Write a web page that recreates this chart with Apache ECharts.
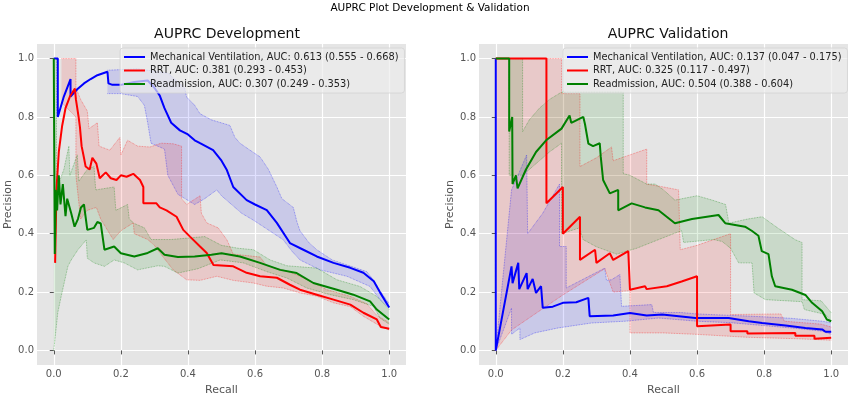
<!DOCTYPE html>
<html>
<head>
<meta charset="utf-8">
<script src="https://cdn.jsdelivr.net/npm/echarts@6/dist/echarts.min.js"></script>
<style>
  html, body { margin: 0; padding: 0; background: #fff; }
  #chart { width: 850px; height: 397px; }
</style>
</head>
<body>
<div id="chart"></div>
<script>
// tick positions shared by both panels
const tickValues = [0, 0.2, 0.4, 0.6, 0.8, 1.0];

// legend labels
const devNames = [
  'Mechanical Ventilation, AUC: 0.613 (0.555 - 0.668)',
  'RRT, AUC: 0.381 (0.293 - 0.453)',
  'Readmission, AUC: 0.307 (0.249 - 0.353)'
];
const valNames = [
  'Mechanical Ventilation, AUC: 0.137 (0.047 - 0.175)',
  'RRT, AUC: 0.325 (0.117 - 0.497)',
  'Readmission, AUC: 0.504 (0.388 - 0.604)'
];

// ---- development: [recall, precision] ----
const devMvLine = [[0,1.0],[0.012,1.0],[0.012,0.80],[0.03,0.87],[0.05,0.93],[0.05,0.87],[0.07,0.895],[0.09,0.915],[0.11,0.93],[0.13,0.943],[0.16,0.955],[0.163,0.915],[0.175,0.91],[0.18,0.905],[0.20,0.91],[0.24,0.92],[0.28,0.925],[0.30,0.90],[0.316,0.873],[0.33,0.83],[0.35,0.78],[0.376,0.754],[0.40,0.74],[0.42,0.72],[0.436,0.71],[0.475,0.686],[0.50,0.65],[0.516,0.618],[0.535,0.56],[0.575,0.515],[0.60,0.50],[0.635,0.481],[0.665,0.437],[0.704,0.368],[0.744,0.345],[0.784,0.322],[0.834,0.30],[0.884,0.283],[0.923,0.266],[0.954,0.237],[0.973,0.198],[1.0,0.147]];
const devMvUpper = [[0.16,0.96],[0.25,0.965],[0.34,0.95],[0.39,0.90],[0.396,0.868],[0.42,0.84],[0.436,0.811],[0.47,0.79],[0.525,0.771],[0.54,0.73],[0.555,0.71],[0.58,0.69],[0.615,0.663],[0.64,0.62],[0.665,0.56],[0.68,0.52],[0.714,0.49],[0.725,0.44],[0.734,0.41],[0.76,0.37],[0.784,0.345],[0.83,0.31],[0.874,0.293],[0.933,0.27],[0.954,0.24],[0.975,0.20],[1.0,0.16]];
const devMvLower = [[0.16,0.88],[0.20,0.88],[0.25,0.87],[0.27,0.84],[0.28,0.78],[0.29,0.71],[0.33,0.69],[0.34,0.60],[0.37,0.535],[0.42,0.50],[0.45,0.52],[0.486,0.55],[0.50,0.53],[0.53,0.50],[0.56,0.47],[0.594,0.447],[0.63,0.42],[0.684,0.379],[0.71,0.34],[0.734,0.31],[0.794,0.276],[0.874,0.254],[0.943,0.219],[0.973,0.174],[1.0,0.146]];

const devRrtLine = [[0.004,0.30],[0.008,0.55],[0.015,0.68],[0.025,0.77],[0.035,0.83],[0.048,0.87],[0.063,0.897],[0.066,0.86],[0.07,0.83],[0.074,0.80],[0.078,0.765],[0.083,0.70],[0.09,0.66],[0.095,0.63],[0.107,0.62],[0.115,0.66],[0.127,0.64],[0.137,0.59],[0.155,0.61],[0.17,0.59],[0.187,0.584],[0.20,0.60],[0.217,0.595],[0.237,0.605],[0.257,0.584],[0.267,0.56],[0.267,0.504],[0.306,0.504],[0.316,0.49],[0.336,0.48],[0.366,0.458],[0.386,0.413],[0.406,0.39],[0.436,0.356],[0.456,0.334],[0.476,0.293],[0.535,0.288],[0.575,0.266],[0.615,0.254],[0.665,0.249],[0.704,0.225],[0.734,0.208],[0.784,0.191],[0.834,0.174],[0.884,0.157],[0.923,0.129],[0.963,0.106],[0.975,0.08],[1.0,0.074]];
const devRrtUpper = [[0.023,1.0],[0.066,1.0],[0.066,0.90],[0.08,0.86],[0.10,0.82],[0.105,0.76],[0.13,0.78],[0.135,0.70],[0.167,0.686],[0.197,0.73],[0.20,0.67],[0.22,0.72],[0.25,0.70],[0.287,0.697],[0.32,0.71],[0.356,0.708],[0.381,0.70],[0.381,0.52],[0.396,0.50],[0.436,0.53],[0.44,0.47],[0.456,0.437],[0.49,0.42],[0.516,0.379],[0.535,0.33],[0.615,0.32],[0.635,0.29],[0.70,0.27],[0.734,0.254],[0.76,0.24],[0.814,0.208],[0.884,0.185],[0.933,0.16],[0.963,0.12],[1.0,0.095]];
const devRrtLower = [[0.023,0.85],[0.066,0.80],[0.066,0.60],[0.08,0.45],[0.10,0.48],[0.127,0.49],[0.14,0.45],[0.177,0.38],[0.20,0.41],[0.237,0.437],[0.24,0.40],[0.28,0.38],[0.30,0.36],[0.326,0.32],[0.356,0.276],[0.396,0.242],[0.436,0.24],[0.486,0.254],[0.535,0.24],[0.595,0.231],[0.635,0.22],[0.684,0.214],[0.734,0.197],[0.784,0.186],[0.834,0.163],[0.884,0.15],[0.923,0.117],[0.963,0.09],[1.0,0.07]];

const devReadLine = [[0,1.0],[0.003,1.0],[0.003,0.33],[0.006,0.55],[0.01,0.48],[0.015,0.60],[0.02,0.50],[0.027,0.57],[0.035,0.46],[0.04,0.52],[0.052,0.47],[0.062,0.424],[0.072,0.45],[0.081,0.49],[0.09,0.50],[0.10,0.413],[0.12,0.42],[0.13,0.44],[0.14,0.435],[0.151,0.345],[0.18,0.356],[0.20,0.333],[0.24,0.322],[0.28,0.334],[0.31,0.35],[0.33,0.328],[0.37,0.32],[0.42,0.322],[0.47,0.328],[0.50,0.333],[0.555,0.322],[0.615,0.30],[0.675,0.276],[0.724,0.265],[0.774,0.231],[0.844,0.208],[0.893,0.191],[0.943,0.168],[0.963,0.14],[1.0,0.106]];
const devReadUpper = [[0,1.0],[0.008,1.0],[0.008,0.55],[0.03,0.62],[0.045,0.70],[0.048,0.60],[0.07,0.67],[0.075,0.58],[0.10,0.62],[0.12,0.63],[0.125,0.55],[0.18,0.56],[0.185,0.48],[0.22,0.50],[0.225,0.45],[0.24,0.435],[0.27,0.42],[0.29,0.38],[0.35,0.38],[0.40,0.385],[0.45,0.39],[0.50,0.36],[0.55,0.35],[0.595,0.345],[0.645,0.31],[0.695,0.29],[0.784,0.282],[0.844,0.242],[0.913,0.219],[0.963,0.185],[1.0,0.14]];
const devReadLower = [[0,0],[0.012,0.13],[0.022,0.185],[0.042,0.288],[0.052,0.31],[0.072,0.345],[0.097,0.379],[0.10,0.316],[0.12,0.30],[0.151,0.288],[0.18,0.31],[0.21,0.30],[0.25,0.276],[0.31,0.29],[0.33,0.288],[0.37,0.265],[0.43,0.28],[0.496,0.31],[0.565,0.30],[0.635,0.27],[0.695,0.248],[0.754,0.214],[0.824,0.191],[0.893,0.174],[0.953,0.151],[0.973,0.11],[1.0,0.09]];

// ---- validation: [recall, precision] ----
const valMvLine = [[0,1.0],[0,0],[0.047,0.288],[0.05,0.23],[0.067,0.30],[0.07,0.21],[0.092,0.265],[0.095,0.21],[0.11,0.245],[0.12,0.197],[0.135,0.22],[0.14,0.146],[0.17,0.15],[0.20,0.163],[0.24,0.165],[0.276,0.18],[0.28,0.117],[0.35,0.12],[0.40,0.128],[0.45,0.12],[0.496,0.123],[0.595,0.111],[0.694,0.111],[0.754,0.10],[0.794,0.094],[0.864,0.085],[0.923,0.077],[0.973,0.072],[0.983,0.064],[1.0,0.064]];
const valMvUpper = [[0,0],[0.047,0.55],[0.07,0.61],[0.092,0.67],[0.095,0.40],[0.14,0.47],[0.19,0.57],[0.19,0.356],[0.21,0.356],[0.21,0.214],[0.325,0.282],[0.33,0.24],[0.345,0.242],[0.37,0.26],[0.375,0.151],[0.465,0.157],[0.47,0.13],[0.55,0.13],[0.60,0.125],[0.70,0.12],[0.744,0.118],[0.80,0.115],[0.88,0.11],[0.973,0.10],[1.0,0.095]];
const valMvLower = [[0,0],[0.027,0.083],[0.047,0.145],[0.047,0.055],[0.072,0.077],[0.072,0.037],[0.116,0.06],[0.186,0.077],[0.286,0.094],[0.385,0.10],[0.485,0.111],[0.60,0.10],[0.70,0.095],[0.80,0.085],[0.90,0.075],[0.973,0.066],[1.0,0.055]];

const valRrtLine = [[0,1.0],[0.151,1.0],[0.151,0.504],[0.20,0.56],[0.20,0.40],[0.251,0.458],[0.251,0.31],[0.296,0.345],[0.30,0.30],[0.34,0.333],[0.35,0.31],[0.395,0.34],[0.40,0.208],[0.445,0.22],[0.45,0.21],[0.51,0.22],[0.554,0.236],[0.60,0.254],[0.60,0.083],[0.70,0.089],[0.70,0.066],[0.75,0.066],[0.75,0.058],[0.893,0.06],[0.893,0.05],[0.95,0.05],[0.95,0.04],[1.0,0.043]];
const valRrtUpper = [[0,1.0],[0.196,1.0],[0.196,0.88],[0.251,0.88],[0.251,0.63],[0.30,0.66],[0.345,0.697],[0.35,0.65],[0.40,0.67],[0.45,0.69],[0.45,0.57],[0.50,0.56],[0.545,0.55],[0.55,0.345],[0.60,0.36],[0.65,0.38],[0.70,0.40],[0.70,0.123],[0.85,0.125],[0.86,0.10],[0.97,0.09],[1.0,0.08]];
const valRrtLower = [[0,0],[0.047,0.07],[0.20,0.19],[0.325,0.28],[0.35,0.20],[0.40,0.205],[0.40,0.06],[0.50,0.06],[0.60,0.055],[0.75,0.045],[0.90,0.04],[1.0,0.035]];

const valReadLine = [[0,1.0],[0.04,1.0],[0.04,0.75],[0.049,0.80],[0.05,0.57],[0.06,0.60],[0.065,0.555],[0.09,0.62],[0.12,0.68],[0.15,0.72],[0.196,0.76],[0.22,0.805],[0.225,0.78],[0.261,0.80],[0.266,0.775],[0.276,0.709],[0.29,0.70],[0.31,0.71],[0.313,0.663],[0.32,0.584],[0.34,0.538],[0.365,0.55],[0.365,0.48],[0.405,0.504],[0.445,0.49],[0.485,0.48],[0.534,0.436],[0.585,0.45],[0.664,0.464],[0.684,0.436],[0.743,0.424],[0.763,0.41],[0.783,0.393],[0.793,0.34],[0.813,0.33],[0.823,0.254],[0.833,0.22],[0.883,0.208],[0.923,0.19],[0.943,0.163],[0.973,0.134],[0.987,0.106],[1.0,0.10]];
const valReadUpper = [[0,1.0],[0.08,1.0],[0.08,0.75],[0.10,0.79],[0.13,0.83],[0.16,0.86],[0.196,0.885],[0.38,0.885],[0.38,0.606],[0.40,0.60],[0.45,0.57],[0.475,0.57],[0.50,0.55],[0.534,0.515],[0.60,0.53],[0.645,0.515],[0.685,0.50],[0.695,0.436],[0.75,0.45],[0.794,0.458],[0.84,0.42],[0.893,0.379],[0.913,0.37],[0.913,0.174],[0.97,0.17],[1.0,0.129]];
const valReadLower = [[0,1.0],[0.04,1.0],[0.04,0.60],[0.08,0.60],[0.12,0.64],[0.16,0.68],[0.196,0.71],[0.196,0.40],[0.25,0.42],[0.26,0.38],[0.30,0.355],[0.36,0.33],[0.42,0.35],[0.53,0.40],[0.554,0.41],[0.56,0.37],[0.65,0.38],[0.675,0.373],[0.70,0.35],[0.724,0.30],[0.764,0.30],[0.77,0.197],[0.804,0.174],[0.913,0.167],[0.92,0.14],[0.983,0.123],[1.0,0.10]];

const font = 'DejaVu Sans';
const colors = ['#0000ff', '#ff0000', '#008000'];
const fills = ['rgba(0,0,255,0.12)', 'rgba(255,0,0,0.12)', 'rgba(0,128,0,0.12)'];
const edges = ['rgba(0,0,255,0.5)', 'rgba(255,0,0,0.5)', 'rgba(0,128,0,0.5)'];

let chart = echarts.init(document.getElementById('chart'), null, { renderer: 'canvas' });

// filled band between upper and lower curve
function band(upper, lower, i, idx) {
  return {
    type: 'custom',
    xAxisIndex: idx,
    yAxisIndex: idx,
    silent: true,
    z: 1,
    clip: true,
    data: [[0, 0]],
    renderItem: function (params, api) {
      let pts = upper.concat(lower.slice().reverse()).map(function (p) { return api.coord(p); });
      return { type: 'polygon', shape: { points: pts }, style: { fill: fills[i] } };
    }
  };
}

function edge(data, i, idx) {
  return {
    type: 'line', xAxisIndex: idx, yAxisIndex: idx, data: data,
    showSymbol: false, silent: true, z: 2,
    lineStyle: { color: edges[i], width: 0.8, type: 'dotted' }
  };
}

function curve(name, data, i, idx) {
  return {
    name: name, type: 'line', xAxisIndex: idx, yAxisIndex: idx, data: data,
    showSymbol: false, z: 3, color: colors[i],
    lineStyle: { color: colors[i], width: 2 }
  };
}

function xAxis(idx) {
  return {
    type: 'value', gridIndex: idx, min: -0.05, max: 1.05,
    name: 'Recall', nameLocation: 'middle', nameGap: 20,
    nameTextStyle: { color: '#555', fontSize: 11, fontFamily: font },
    axisLine: { show: false },
    axisTick: { show: true, length: 4, lineStyle: { color: '#555' }, customValues: tickValues },
    axisLabel: { color: '#555', fontSize: 10, fontFamily: font, margin: 4, customValues: tickValues,
      formatter: function (v) { return v.toFixed(1); } },
    splitLine: { show: true, lineStyle: { color: '#fff', width: 1.2 } }
  };
}

function yAxis(idx) {
  return {
    type: 'value', gridIndex: idx, min: -0.05, max: 1.05,
    name: 'Precision', nameLocation: 'middle', nameGap: 23,
    nameTextStyle: { color: '#555', fontSize: 11, fontFamily: font },
    axisLine: { show: false },
    axisTick: { show: true, length: 4, lineStyle: { color: '#555' }, customValues: tickValues },
    axisLabel: { color: '#555', fontSize: 10, fontFamily: font, margin: 3, customValues: tickValues,
      formatter: function (v) { return v.toFixed(1); } },
    splitLine: { show: true, lineStyle: { color: '#fff', width: 1.2 } }
  };
}

function legend(names, left) {
  return {
    data: names, orient: 'vertical', left: left, top: 48,
    icon: 'rect', itemWidth: 21, itemHeight: 2, itemGap: 1.5,
    padding: [3, 6, 3, 4],
    backgroundColor: 'rgba(236,236,236,0.7)', borderColor: '#d3d3d3', borderWidth: 0.8, borderRadius: 3,
    textStyle: { color: '#222', fontSize: 9.8, fontFamily: font, lineHeight: 12 },
    selectedMode: false
  };
}

let series = [];
let devSets = [[devMvLine, devMvUpper, devMvLower], [devRrtLine, devRrtUpper, devRrtLower], [devReadLine, devReadUpper, devReadLower]];
let valSets = [[valMvLine, valMvUpper, valMvLower], [valRrtLine, valRrtUpper, valRrtLower], [valReadLine, valReadUpper, valReadLower]];
[devSets, valSets].forEach(function (sets, idx) {
  let names = idx === 0 ? devNames : valNames;
  for (let i = 0; i < sets.length; i++) {
    series.push(band(sets[i][1], sets[i][2], i, idx));
    series.push(edge(sets[i][1], i, idx));
    series.push(edge(sets[i][2], i, idx));
  }
  for (let i = 0; i < sets.length; i++) {
    series.push(curve(names[i], sets[i][0], i, idx));
  }
});

let option = {
  animation: false,
  backgroundColor: '#fff',
  title: [
    { text: 'AUPRC Plot Development & Validation', left: 425, top: -2, textAlign: 'center',
      textStyle: { fontSize: 10.5, fontWeight: 'normal', color: '#000', fontFamily: font } },
    { text: 'AUPRC Development', left: 222, top: 22, textAlign: 'center',
      textStyle: { fontSize: 14, fontWeight: 'normal', color: '#111', fontFamily: font } },
    { text: 'AUPRC Validation', left: 663, top: 22, textAlign: 'center',
      textStyle: { fontSize: 14, fontWeight: 'normal', color: '#111', fontFamily: font } }
  ],
  legend: [legend(devNames, 120), legend(valNames, 563)],
  grid: [
    { left: 37, top: 44, width: 369, height: 321, show: true, backgroundColor: '#e5e5e5', borderWidth: 0, outerBoundsMode: 'none' },
    { left: 479, top: 44, width: 369, height: 321, show: true, backgroundColor: '#e5e5e5', borderWidth: 0, outerBoundsMode: 'none' }
  ],
  xAxis: [xAxis(0), xAxis(1)],
  yAxis: [yAxis(0), yAxis(1)],
  series: series
};

chart.setOption(option);
</script>
</body>
</html>
